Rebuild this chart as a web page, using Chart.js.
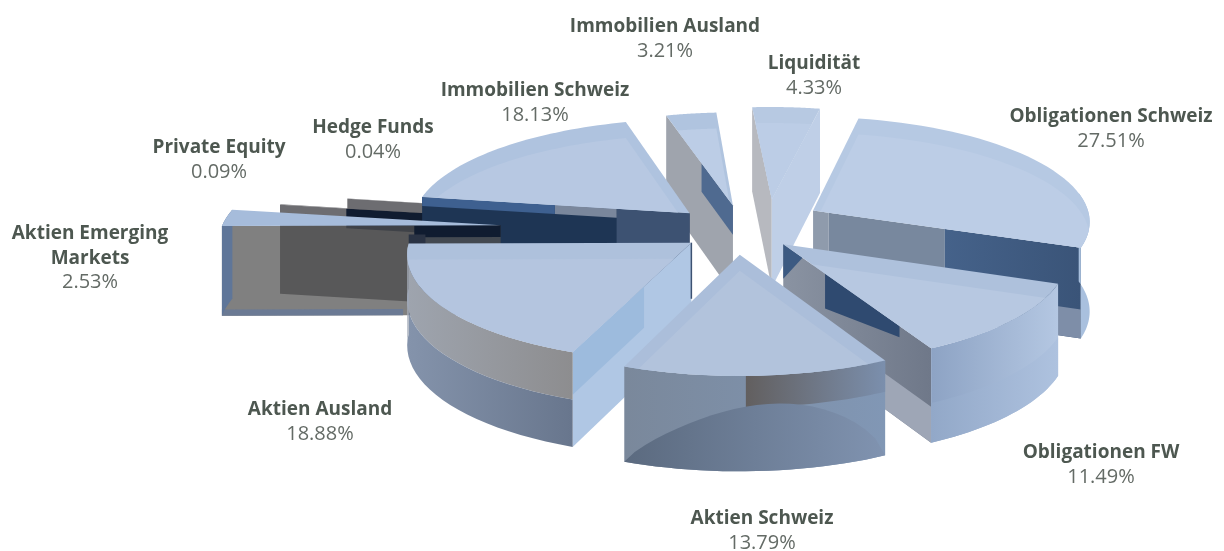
<!DOCTYPE html>
<html><head><meta charset="utf-8">
<style>html,body{margin:0;padding:0;background:#fff}canvas{display:block}</style>
<script src="https://cdn.jsdelivr.net/npm/chart.js@4"></script></head>
<body><canvas id="c" width="1224" height="551"></canvas>
<script>
const categories=["Liquidität","Obligationen Schweiz","Obligationen FW","Aktien Schweiz","Aktien Ausland","Aktien Emerging Markets","Private Equity","Hedge Funds","Immobilien Schweiz","Immobilien Ausland"];
const shares=[4.33,27.51,11.49,13.79,18.88,2.53,0.09,0.04,18.13,3.21];
const explode=[0.32,0.26,0.22,0.21,0.23,0.88,0.72,0.48,0.27,0.26];

const labelLines=[["Liquidität"],["Obligationen Schweiz"],["Obligationen FW"],["Aktien Schweiz"],["Aktien Ausland"],["Aktien Emerging","Markets"],["Private Equity"],["Hedge Funds"],["Immobilien Schweiz"],["Immobilien Ausland"]];
const labelAnchor=[[814,69],[1111,122],[1101,458],[762,524],[320,415],[90,239],[219,153],[373,133],[535,96],[665,32]];
const nudge=[[.077,0],[.02,.08],[-.03,.03],[-.03,0],[0,.03],[0,0],[0,0],[0,.09],[0,0],[0,0]];
const REF=146,CX=745,CY=232,A=280,C=106,K=.09,H=90;
const ORDER=[9,0,7,6,8,5,1,2,4,3];
// wall layers: [u0,u1,v0,v1,colour or [from,to],optional v1 at u1]
const style={
0:{top:['#b7c9e2','#bccde6'],a:[[0,1,0,1,'rgba(165,168,175,.8)']],b:[[0,1,0,1,'#bfcfe7']]},
1:{top:['#b6c9e3','#bccde6'],b:[[0,.06,0,1,'#8f9bac'],[.06,.5,0,1,'#78889e'],[.5,1,0,1,['#45628a','#3a5478']],[.85,1,.68,1,'#7e8ea8']],arc:[[0,1,0,1,'#a9c0de']]},
2:{top:['#aec1dc','#b7c8e1'],b:[[0,1,0,1,['#8a93a2','#6f7889']],[.55,1,.62,1,'#9ea6b6'],[0,.55,.5,1,'#8a93a2'],[0,.14,0,.38,'#3c5a82',0],[.3,.8,0,.38,'#2f4a70',.12]],arc:[[0,1,0,1,['#b4c7e2','#8da3c4']],[0,1,.58,1,['#aec2df','#92a8c8']]]},
3:{top:['#abbeda','#b2c3dc'],arc:[[0,1,0,1,['#8197b5','#7a889b']],[0,.54,0,.33,['#7b8fad','#625f5f']],[0,1,.3,1,['#8093b0','#5b6a7f'],'dome']]},
4:{top:['#aec1dc','#b4c5df'],a:[[0,1,0,1,'#b0c7e4'],[.42,1,0,.45,'#9dbbdd']],arc:[[0,1,0,.5,['#8d8d8f','#9ea4ae']],[0,1,.5,1,['#68768d','#8493ab']],[.94,1,0,1,'#a7aebb']]},
5:{top:['#a6bcdb','#a6bcdb'],a:[[0,1,0,1,'rgba(81,81,81,.73)'],[0,.31,0,.13,'#101c30'],[.27,.33,.1,1,'#2a3344'],[.35,1,.93,1,'#6b7a94']],arc:[[0,1,0,1,'#5f7699']]},
6:{top:['#6e6e72','#6e6e72'],a:[[0,1,0,1,'rgba(60,60,65,.75)'],[0,.75,0,.22,'#101c30']]},
7:{top:['#6e6e72','#6e6e72'],a:[[0,1,0,.28,'rgba(60,60,65,.75)']]},
8:{top:['#afc3df','#b7c8e2'],a:[[0,1,0,1,'#1e3554'],[0,.27,0,1,'#3d5272'],[.27,.5,0,.1,'#7a879c'],[.5,1,0,.1,'#3e6090']]},
9:{top:['#b0c4df','#bccde6'],a:[[0,1,0,1,'#9fa4ad'],[0,.45,0,.33,'#4f6a90']]}
};
const proj=(X,Y,v)=>{const w=1+K*Y;return [CX+A*X/w,CY-C*Y/w+v*H*(1-.05*Y)];};
const drawPoly=(ctx,p,fill)=>{ctx.beginPath();p.forEach((q,i)=>i?ctx.lineTo(q[0],q[1]):ctx.moveTo(q[0],q[1]));ctx.closePath();ctx.fillStyle=fill;ctx.fill();};
const paint=(ctx,c,a,b)=>{if(!Array.isArray(c))return c;const g=ctx.createLinearGradient(a,0,b,0);g.addColorStop(0,c[0]);g.addColorStop(1,c[1]);return g;};

const pie3d={id:'pie3d',beforeDatasetsDraw(chart){
 const ctx=chart.ctx,els=chart.getDatasetMeta(0).data;
 ctx.save();
 ORDER.forEach(i=>{
  const el=els[i],s=style[i],off=el.options.offset/REF;
  const t0=el.startAngle+Math.PI/2,t1=el.endAngle+Math.PI/2,mid=(t0+t1)/2;
  const ox=off*Math.sin(mid)+nudge[i][0],oy=off*Math.cos(mid)+nudge[i][1];
  const rim=t=>[ox+Math.sin(t),oy+Math.cos(t)];
  const wall=(t,layers)=>(layers||[]).forEach(l=>{
    const [ex,ey]=rim(t),P=(u,v)=>proj(ox+(ex-ox)*u,oy+(ey-oy)*u,v);
    const q=[P(l[0],l[2]),P(l[1],l[2]),P(l[1],l[5]===undefined?l[3]:l[5]),P(l[0],l[3])];
    drawPoly(ctx,q,paint(ctx,l[4],q[0][0],q[1][0]));
  });
  wall(t0,s.a);wall(t1,s.b);
  if(s.arc){
    let lo=Math.max(t0<0?t0+2*Math.PI:t0,80*Math.PI/180),hi=Math.min(t1<0?t1+2*Math.PI:t1,280*Math.PI/180);
    if(hi>lo)s.arc.forEach(l=>{
      const a=lo+(hi-lo)*l[0],b=lo+(hi-lo)*l[1],up=[],dn=[];
      for(let n=0;n<=24;n++){
        const f=n/24,t=a+(b-a)*f,[x,y]=rim(t);
        const v0=l[5]==='dome'?l[3]-(l[3]-l[2])*Math.pow(Math.sin(Math.PI*Math.pow(f,.85)),.8):l[2];
        up.push(proj(x,y,v0));dn.unshift(proj(x,y,l[3]));
      }
      drawPoly(ctx,up.concat(dn),paint(ctx,l[4],up[0][0],up[24][0]));
    });
  }
  const top=[proj(ox,oy,0)];
  for(let n=0;n<=40;n++){const t=t0+(t1-t0)*n/40,[x,y]=rim(t);top.push(proj(x,y,0));}
  drawPoly(ctx,top,s.top[0]);
  ctx.save();ctx.clip();
  drawPoly(ctx,top.map(q=>[q[0],q[1]+16]),s.top[1]);
  ctx.restore();
 });
 // thin vertical edge where the Aktien Ausland wedge is cut
 const au=els[4],m=(au.startAngle+au.endAngle)/2+Math.PI/2,o=au.options.offset/REF;
 const e0=proj(o*Math.sin(m)+nudge[4][0],o*Math.cos(m)+nudge[4][1],0),e1=proj(o*Math.sin(m)+nudge[4][0],o*Math.cos(m)+nudge[4][1],.62);
 ctx.strokeStyle='#3d5272';ctx.lineWidth=1.5;ctx.beginPath();ctx.moveTo(e0[0],e0[1]);ctx.lineTo(e1[0],e1[1]);ctx.stroke();
 ctx.textAlign='center';ctx.textBaseline='alphabetic';
 categories.forEach((n,i)=>{
  const [x,y0]=labelAnchor[i];let y=y0;
  ctx.font='bold 19px "Open Sans"';ctx.fillStyle='#4d5750';
  labelLines[i].forEach(t=>{ctx.fillText(t,x,y);y+=24.5;});
  ctx.font='20px "Open Sans"';ctx.fillStyle='#646b66';
  ctx.fillText(shares[i].toFixed(2)+'%',x,y);
 });
 ctx.restore();
 return false;
}};
new Chart(document.getElementById('c'),{type:'pie',
 data:{labels:categories,datasets:[{data:shares,borderWidth:0,offset:c=>explode[c.dataIndex]*REF,backgroundColor:'#b6c7e0'}]},
 options:{responsive:false,animation:false,rotation:-4,plugins:{legend:{display:false},tooltip:{enabled:false}}},
 plugins:[pie3d]});
</script></body></html>
